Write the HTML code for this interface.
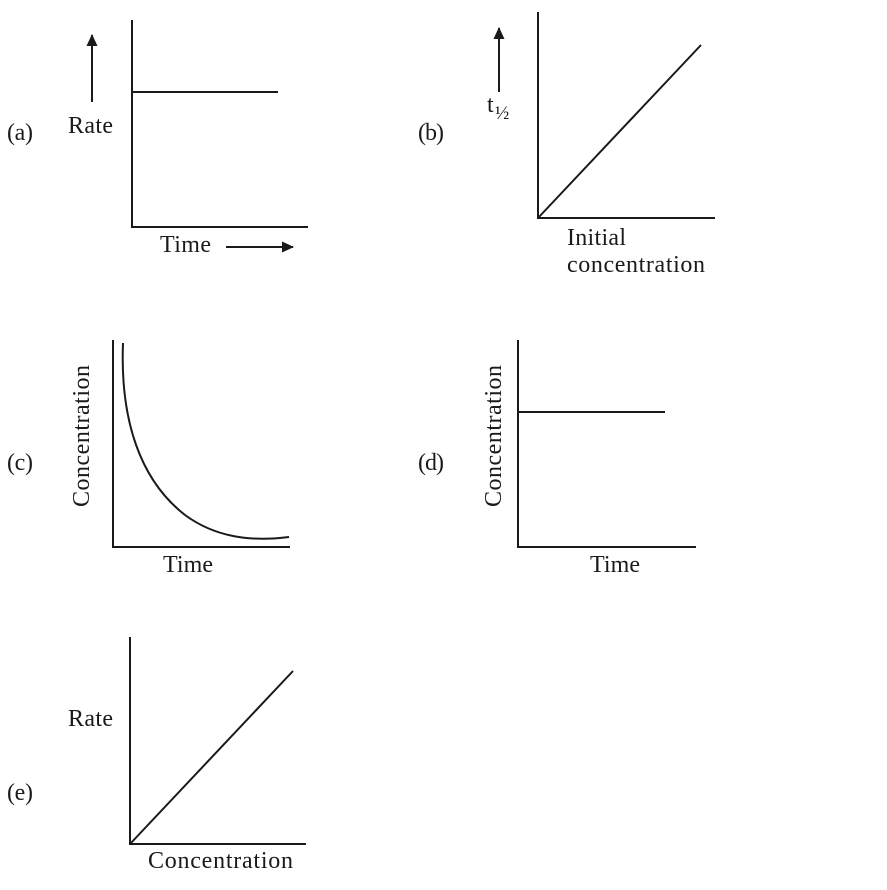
<!DOCTYPE html>
<html><head><style>
html,body{margin:0;padding:0;background:#fff;}
svg text{font-family:"Liberation Serif",serif;font-size:24px;fill:#1a1a1a;}
</style></head><body>
<svg width="887" height="885" viewBox="0 0 887 885" xmlns="http://www.w3.org/2000/svg">
<defs><marker id="ah" markerWidth="14" markerHeight="14" refX="11" refY="6" orient="auto" markerUnits="userSpaceOnUse"><path d="M0,0.5 L12,6 L0,11.5 Z" fill="#1a1a1a"/></marker></defs>
<g stroke="#1a1a1a" stroke-width="2" fill="none">
<polyline points="132,20 132,227 308,227"/>
<line x1="132" y1="92" x2="278" y2="92"/>
<line x1="92" y1="102" x2="92" y2="35" marker-end="url(#ah)"/>
<line x1="226" y1="247" x2="293" y2="247" marker-end="url(#ah)"/>
<polyline points="538,12 538,218 715,218"/>
<line x1="538" y1="218" x2="701" y2="45"/>
<line x1="499" y1="92" x2="499" y2="28" marker-end="url(#ah)"/>
<polyline points="113,340 113,547 290,547"/>
<path d="M123,343 C120,420 140,480 185,515 C215,537 250,542 289,537"/>
<polyline points="518,340 518,547 696,547"/>
<line x1="518" y1="412" x2="665" y2="412"/>
<polyline points="130,637 130,844 306,844"/>
<line x1="130" y1="844" x2="293" y2="671"/>
</g>
<text x="7" y="140" textLength="26">(a)</text>
<text x="68" y="133" textLength="45">Rate</text>
<text x="160" y="252" textLength="51">Time</text>
<text x="418" y="140" textLength="26">(b)</text>
<text x="487" y="112">t</text><text x="495" y="119" style="font-size:19px">½</text>
<text x="567" y="245" textLength="59">Initial</text>
<text x="567" y="272" textLength="138">concentration</text>
<text x="7" y="470" textLength="26">(c)</text>
<text transform="translate(89,436) rotate(-90)" x="-71" y="0" textLength="142">Concentration</text>
<text x="163" y="572" textLength="50">Time</text>
<text x="418" y="470" textLength="26">(d)</text>
<text transform="translate(501,436) rotate(-90)" x="-71" y="0" textLength="142">Concentration</text>
<text x="590" y="572" textLength="50">Time</text>
<text x="68" y="726" textLength="45">Rate</text>
<text x="7" y="800" textLength="26">(e)</text>
<text x="148" y="868" textLength="145">Concentration</text>
</svg>
</body></html>
